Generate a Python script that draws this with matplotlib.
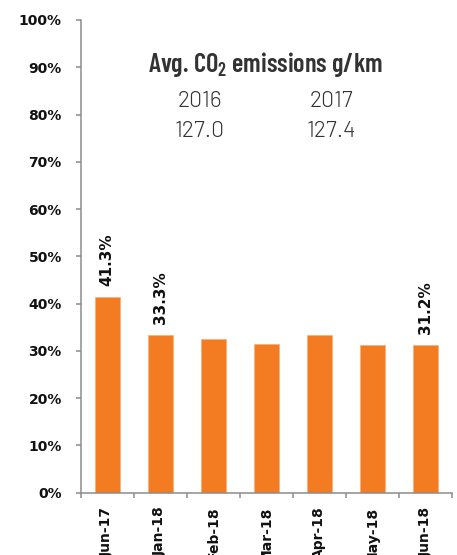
import numpy as np
import matplotlib.pyplot as plt
from matplotlib.ticker import FixedLocator, FuncFormatter

# ----------------------
# Data
# ----------------------
months = ['Jun-17', 'Jan-18', 'Feb-18', 'Mar-18', 'Apr-18', 'May-18', 'Jun-18']
share = [41.3, 33.3, 32.5, 31.4, 33.4, 31.3, 31.2]   # percent
labelled = [0, 1, 6]                                   # bars that carry a value label
years = ['2016', '2017']
avg_co2 = [127.0, 127.4]                              # g/km

cond = ['Barlow Condensed', 'DejaVu Sans']
light = ['Barlow', 'DejaVu Sans']
plt.rcParams['mathtext.default'] = 'regular'

fig = plt.figure(figsize=(4.57, 5.55), dpi=100)
ax = fig.add_axes([0.1766, 0.1123, 0.8124, 0.8517])

x = np.arange(len(months))
ax.bar(x, [v / 100 for v in share], width=0.47, color='#F37B22',
       edgecolor='#F9B27A', linewidth=0.6, zorder=2)

# value labels above selected bars, rotated
for i in labelled:
    ax.text(x[i], share[i] / 100 + 0.024, f'{share[i]:.1f}%', rotation=90,
            ha='center', va='bottom', fontsize=11, fontweight='bold',
            family='DejaVu Sans', color='#111111')

# axes styling
ax.set_xlim(-0.5, len(months) - 0.5)
ax.set_ylim(0, 1.0)
ax.set_yticks(np.arange(0, 1.01, 0.1))
ax.yaxis.set_major_formatter(FuncFormatter(lambda v, p: f'{v * 100:.0f}%'))
for s in ['top', 'right']:
    ax.spines[s].set_visible(False)
for s in ['left', 'bottom']:
    ax.spines[s].set_color('#8c8c8c')
    ax.spines[s].set_linewidth(1.1)

ax.tick_params(axis='y', direction='out', length=3.6, color='#8c8c8c', width=1.1,
               pad=10, labelsize=10)
for lab in ax.get_yticklabels():
    lab.set_fontweight('bold')
    lab.set_family('DejaVu Sans')
    lab.set_color('#111111')

ax.set_xticks(x)
ax.set_xticklabels(months, rotation=90, fontsize=10, fontweight='bold',
                   family='DejaVu Sans', va='top', ha='center', color='#111111')
ax.tick_params(axis='x', which='major', length=0, pad=10)
ax.xaxis.set_minor_locator(FixedLocator(np.arange(-0.5, len(months), 1.0)))
ax.tick_params(axis='x', which='minor', direction='out', length=3.6,
               color='#8c8c8c', width=1.1)

# average CO2 emissions block
ax.text(2.99, 0.890, 'Avg. CO$_2$ emissions g/km', ha='center', va='baseline',
        fontsize=19, fontweight=600, family=cond, color='#333333')
for xc, yr, val in zip([1.74, 4.22], years, avg_co2):
    ax.text(xc, 0.816, yr, ha='center', va='baseline', fontsize=16.5,
            fontweight=300, family=light, color='#333333')
    ax.text(xc, 0.752, f'{val:.1f}', ha='center', va='baseline', fontsize=16.5,
            fontweight=300, family=light, color='#333333')

fig.savefig('out.png', dpi=100)
